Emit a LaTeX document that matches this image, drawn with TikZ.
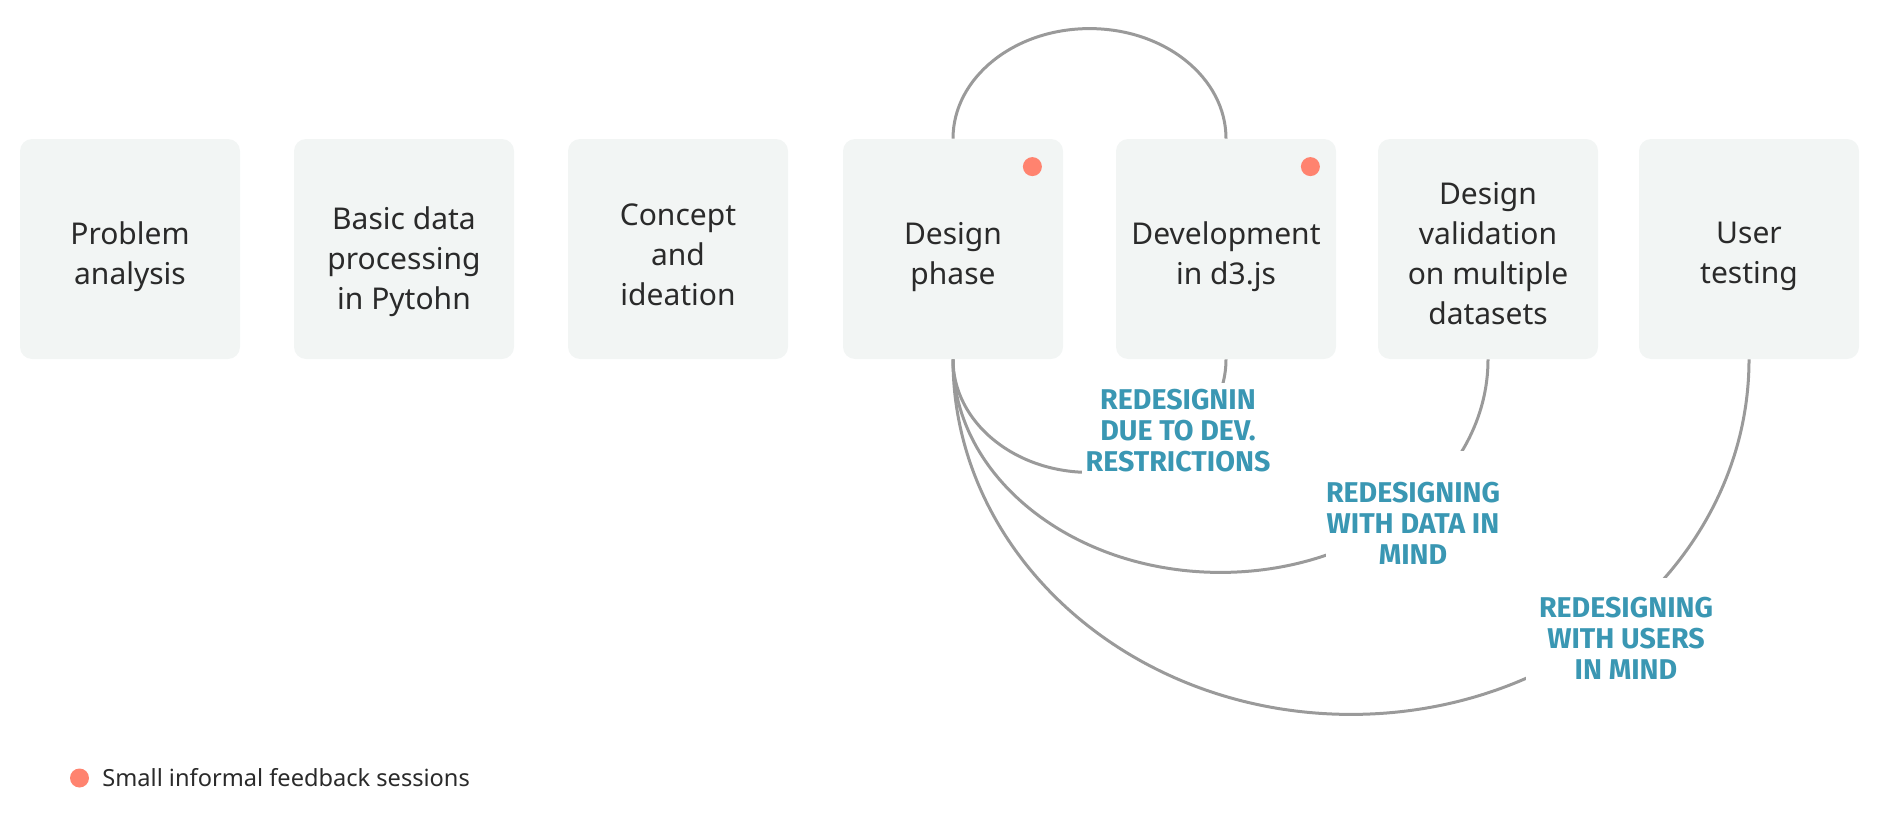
\documentclass[tikz,border=0pt]{standalone}
\usepackage{fontspec}
\setmainfont{Noto Sans}
\newfontfamily\handfont{Fira Sans}
\definecolor{boxfill}{HTML}{F2F5F4}
\definecolor{txtdark}{HTML}{2A2A2A}
\definecolor{dotred}{HTML}{FF836F}
\definecolor{linegray}{HTML}{9A9A9A}
\definecolor{labelteal}{HTML}{3A97B3}
\begin{document}
\begin{tikzpicture}[x=0.5pt,y=-0.5pt,
  stage/.style={fill=boxfill, rounded corners=6pt, minimum width=110pt, minimum height=110pt, inner sep=0pt},
  stagetext/.style={align=center, text=txtdark, font=\fontsize{15}{20}\selectfont, inner sep=0pt},
  fbdot/.style={circle, fill=dotred, minimum size=9.5pt, inner sep=0pt},
  loopline/.style={draw=linegray, line width=1.5pt},
  note/.style={fill=white, text=labelteal, align=center,
    font=\handfont\bfseries\fontsize{14.3}{15.5}\selectfont, inner sep=0pt}]
\useasboundingbox (0,0) rectangle (1888,824);

\node[stage] (s1) at (130,249) {};
\node[stage] (s2) at (404,249) {};
\node[stage] (s3) at (678,249) {};
\node[stage] (dp) at (953,249) {};
\node[stage] (dev) at (1226,249) {};
\node[stage] (val) at (1488,249) {};
\node[stage] (ut) at (1749,249) {};

\node[stagetext] (t1) at ([yshift=-3.9pt]s1.center) {Problem\\analysis};
\node[stagetext] (t2) at ([yshift=-6.3pt]s2.center) {Basic data\\processing\\in Pytohn};
\node[stagetext] (t3) at ([yshift=-2.7pt]s3.center) {Concept\\and\\ideation};
\node[stagetext] (t4) at ([yshift=-3.9pt]dp.center) {Design\\phase};
\node[stagetext] (t5) at ([yshift=-3.9pt]dev.center) {Development\\in d3.js};
\node[stagetext] (t6) at ([yshift=-2.4pt]val.center) {Design\\validation\\on multiple\\datasets};
\node[stagetext] (t7) at ([yshift=-3.9pt]ut.center) {User\\testing};

\node[fbdot] (d1) at ([xshift=-15.5pt,yshift=-14pt]dp.north east) {};
\node[fbdot] (d2) at ([xshift=-13pt,yshift=-14pt]dev.north east) {};

\draw[loopline] (dp.north) arc[start angle=180,end angle=360,x radius=136.5,y radius=110] -- (dev.north);
\draw[loopline] (dp.south) arc[start angle=180,end angle=0,x radius=136.5,y radius=113] -- (dev.south);
\draw[loopline] (dp.south) arc[start angle=180,end angle=0,x radius=267.5,y radius=213] -- (val.south);
\draw[loopline] (dp.south) arc[start angle=180,end angle=0,x radius=398,y radius=355] -- (ut.south);

\node[note, minimum width=96pt, minimum height=48pt] (n1) at (1178,431) {REDESIGNIN\\DUE TO DEV.\\RESTRICTIONS};
\node[note, minimum width=83pt, minimum height=72pt] (n2) at (1413,523) {REDESIGNING\\WITH DATA IN\\MIND};
\node[note, minimum width=100pt, minimum height=60pt] (n3) at (1626,638) {REDESIGNING\\WITH USERS\\IN MIND};

\node[fbdot] (ld) at (79.5,778) {};
\node[anchor=west, text=txtdark, font=\fontsize{11.8}{14}\selectfont, inner sep=0pt] (lt) at (102,778) {Small informal feedback sessions};
\end{tikzpicture}
\end{document}
